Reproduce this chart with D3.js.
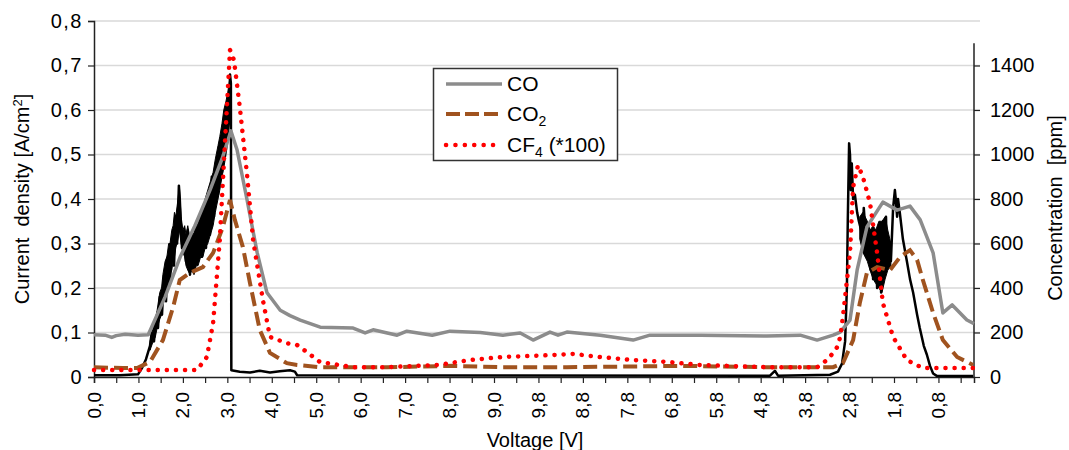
<!DOCTYPE html>
<html>
<head>
<meta charset="utf-8">
<script src="https://cdn.jsdelivr.net/npm/d3@7"></script>
<style>
  body { margin: 0; background: #fff; }
  svg { display: block; font-family: "Liberation Sans", Arial, sans-serif; }
</style>
</head>
<body>
<div id="vis"></div>
<script>
// ---- Data (x = sample index, 10 samples per label step) ----
const xLabels = ["0,0","1,0","2,0","3,0","4,0","5,0","6,0","7,0","8,0","9,0",
                 "9,8","8,8","7,8","6,8","5,8","4,8","3,8","2,8","1,8","0,8"];
const yLeftTicks = [0, 0.1, 0.2, 0.3, 0.4, 0.5, 0.6, 0.7, 0.8];
const yRightTicks = [0, 200, 400, 600, 800, 1000, 1200, 1400];

// current density [A/cm2] - left axis
const current = [
  [0,0.004],[5.8,0.004],[9.9,0.006],[10.8,0.02],[11.7,0.04],[12.6,0.07],[13.0,0.10],[13.5,0.08],
  [13.9,0.13],[14.4,0.11],[14.8,0.18],[15.3,0.14],[15.7,0.22],[16.2,0.17],[16.6,0.27],[17.1,0.21],
  [17.5,0.31],[18.0,0.25],[18.4,0.36],[18.7,0.30],[19.1,0.43],[19.3,0.40],[19.6,0.33],[19.8,0.29],
  [20.2,0.32],[20.7,0.26],[21.1,0.33],[21.6,0.23],[22.0,0.32],[22.5,0.24],[22.9,0.34],[23.4,0.26],
  [23.8,0.35],[24.3,0.27],[24.7,0.38],[25.2,0.29],[25.6,0.41],[26.1,0.32],[26.5,0.45],[27.0,0.36],
  [27.4,0.48],[27.9,0.41],[28.3,0.52],[28.8,0.46],[29.2,0.56],[29.7,0.51],[30.1,0.62],[30.4,0.57],
  [30.6,0.68],[30.8,0.66],[30.9,0.015],[32.8,0.012],[35.1,0.01],[37.3,0.014],[39.6,0.01],[41.8,0.013],
  [44.1,0.015],[45.2,0.012],[45.7,0.004],[152.1,0.003],[153.2,0.014],[153.9,0.003],[165.6,0.005],
  [167.4,0.012],[168.3,0.03],[169.0,0.08],[169.4,0.2],[169.6,0.35],[169.9,0.525],[170.1,0.50],
  [170.3,0.42],[170.5,0.48],[170.8,0.40],[171.2,0.41],[171.7,0.37],[172.1,0.35],[172.6,0.33],
  [172.8,0.36],[173.0,0.32],[173.2,0.38],[173.7,0.31],[174.1,0.34],[174.4,0.27],[174.6,0.32],
  [174.8,0.24],[175.0,0.31],[175.3,0.22],[175.5,0.33],[175.7,0.25],[175.9,0.30],[176.2,0.20],
  [176.4,0.33],[176.6,0.23],[176.8,0.30],[177.1,0.19],[177.3,0.34],[177.5,0.22],[177.7,0.35],
  [178.0,0.24],[178.2,0.36],[178.4,0.26],[178.6,0.29],[178.9,0.25],[179.1,0.30],[179.3,0.26],
  [179.8,0.38],[180.2,0.42],[180.4,0.40],[180.7,0.36],[180.9,0.40],[181.3,0.37],[182.0,0.31],
  [182.9,0.26],[183.6,0.22],[184.3,0.19],[185.2,0.14],[185.8,0.11],[186.7,0.07],[187.4,0.05],
  [188.1,0.025],[188.8,0.008],[189.7,0.002],[197.8,0.002]
];

// noise envelope of the current signal: [index, low, high]
const currentBand = [
  [12.6,0.06,0.08],[13.3,0.08,0.11],[13.8,0.09,0.13],[14.2,0.11,0.15],[14.8,0.13,0.19],
  [15.2,0.14,0.20],[15.5,0.17,0.23],[16.0,0.18,0.26],[16.4,0.20,0.27],[16.8,0.21,0.30],
  [17.1,0.23,0.30],[17.5,0.24,0.33],[17.8,0.26,0.34],[18.1,0.27,0.37],[18.4,0.29,0.36],
  [18.9,0.31,0.40],[19.2,0.33,0.43],[19.6,0.30,0.36],[20.0,0.28,0.33],[20.4,0.27,0.34],
  [20.7,0.25,0.32],[21.1,0.24,0.34],[21.6,0.23,0.31],[22.0,0.24,0.33],[22.5,0.23,0.32],
  [23.0,0.25,0.35],[23.4,0.25,0.34],[24.0,0.27,0.37],[24.5,0.27,0.38],[25.0,0.29,0.40],
  [25.6,0.30,0.42],[26.2,0.32,0.44],[26.8,0.34,0.46],[27.3,0.37,0.49],[27.9,0.40,0.52],
  [28.3,0.42,0.54],[28.8,0.45,0.57],[29.2,0.47,0.60],[29.7,0.50,0.62],[30.1,0.54,0.64],
  [30.4,0.56,0.66],[30.7,0.60,0.68]
];
const currentBand2 = [
  [172.3,0.31,0.36],[173.0,0.28,0.37],[174.0,0.26,0.35],[174.6,0.24,0.33],[175.3,0.22,0.34],
  [175.9,0.21,0.33],[176.6,0.20,0.35],[177.3,0.19,0.35],[178.0,0.22,0.36],[178.6,0.24,0.33],
  [179.3,0.25,0.30]
];

// concentrations [ppm] - right axis
const co = [
  [0,190],[2.5,188],[4,178],[5,186],[7,192],[9.9,188],[12.2,190],[16,360],[19.4,540],[22.7,680],
  [26.1,840],[28.8,980],[30.8,1106],[32.2,1020],[34.4,800],[36.7,560],[38.9,380],[41.9,300],
  [44.1,276],[46.4,256],[50.9,224],[58.3,220],[61,198],[62.8,212],[68.2,188],[70.4,206],[76.1,188],
  [80.1,206],[86.9,200],[92,188],[95.9,198],[98.8,166],[102.6,202],[104.4,188],[106.4,202],
  [113.9,188],[121.3,166],[125.1,188],[136.4,188],[151.4,184],[158.9,188],[162.7,166],[166.3,188],
  [167.9,202],[170.1,256],[171.7,480],[173.9,674],[177.5,786],[180.7,750],[183.6,768],[185.9,706],
  [188.8,558],[191,288],[193.1,324],[196.4,256],[198,240]
];

const co2 = [
  [0,44],[6.5,40],[9.7,40],[12.6,68],[15.5,166],[17.8,314],[19.3,436],[21.6,468],[24.5,494],
  [26.8,558],[29.0,674],[30.6,796],[31.7,706],[33.5,584],[35.1,422],[37.3,212],[39.6,108],
  [43.4,62],[45.7,54],[50.8,44],[65.9,44],[80.8,50],[92,44],[106.4,44],[132.5,50],[151.4,44],
  [166.3,44],[168.5,62],[170.8,166],[172.3,332],[173.9,468],[176.2,494],[179.1,480],[181.4,540],
  [183.6,570],[185.2,526],[186.5,436],[188.8,288],[191,166],[194.2,90],[197.8,54]
];

const cf4 = [
  [0,32],[23.2,32],[25.4,90],[26.8,242],[28.3,616],[29.5,1066],[30.6,1470],[31.5,1424],[32.8,1214],
  [34.4,916],[35.8,616],[38,346],[39.6,180],[43.4,152],[45.7,144],[47.9,112],[50.8,68],[58.3,44],
  [65.9,44],[77.2,54],[84.6,76],[92,90],[102.6,98],[107.8,104],[113.8,90],[121.3,76],[128.9,68],
  [136.4,54],[151.4,44],[162.7,44],[164.9,76],[166.3,108],[167.2,134],[167.9,180],[168.5,270],
  [170.1,558],[170.8,854],[171.9,952],[173,900],[174.6,782],[176.2,558],[177.5,332],[179.8,180],
  [182.9,76],[186.5,40],[197.8,40]
];

const outerWidth = 1069;
const outerHeight = 450;
const margin = { top: 21, right: 95, bottom: 73, left: 94 };
const width = outerWidth - margin.left - margin.right;
const height = outerHeight - margin.top - margin.bottom;

const root = d3.select("#vis")
  .append("svg")
  .attr("width", outerWidth)
  .attr("height", outerHeight);

const svg = root.append("g")
  .attr("transform", `translate(${margin.left},${margin.top})`);

// ---- Scales ----
const x = d3.scaleLinear().domain([0, 198]).range([0, width]);
const yL = d3.scaleLinear().domain([0, 0.8]).range([height, 0]);
const yR = d3.scaleLinear().domain([0, 1600]).range([height, 0]);

// ---- Gridlines ----
svg.append("g")
  .selectAll("line")
  .data(yLeftTicks.filter(d => d > 0))
  .join("line")
  .attr("x1", 0)
  .attr("x2", width + 6)
  .attr("y1", d => yL(d))
  .attr("y2", d => yL(d))
  .attr("stroke", "#d9d9d9")
  .attr("stroke-width", 1.5);

// ---- Axes ----
const fmtL = d => d === 0 ? "0" : d3.format(".1f")(d).replace(".", ",");

const axL = svg.append("g")
  .call(d3.axisLeft(yL).tickValues(yLeftTicks).tickFormat(fmtL).tickSize(6).tickPadding(5));
axL.select(".domain").attr("stroke", "#222").attr("stroke-width", 1.5);

const axR = svg.append("g")
  .attr("transform", `translate(${width},0)`)
  .call(d3.axisRight(yR).tickValues(yRightTicks).tickFormat(d3.format("d")).tickSize(6).tickPadding(10));
axR.select(".domain").remove();
axR.append("line")
  .attr("y1", yR(0))
  .attr("y2", yR(1500))
  .attr("stroke", "#222")
  .attr("stroke-width", 1.5);

const axB = svg.append("g")
  .attr("transform", `translate(0,${height})`)
  .call(d3.axisBottom(x).tickValues(d3.range(0, 196, 5)).tickFormat("").tickSize(6));
axB.select(".domain").attr("stroke", "#222").attr("stroke-width", 1.5);

[axL, axR, axB].forEach(a => {
  a.selectAll(".tick line").attr("stroke", "#222").attr("stroke-width", 1.2);
  a.selectAll(".tick text")
    .attr("fill", "#000")
    .style("font-size", "20px")
    .style("font-family", "'Liberation Sans', Arial, sans-serif");
});
axL.selectAll(".tick text").style("letter-spacing", "1.5px");

// rotated category labels
svg.append("g")
  .selectAll("text")
  .data(xLabels)
  .join("text")
  .attr("transform", (d, i) => `translate(${x(i * 10) + 6.5},${height + 15}) rotate(-90)`)
  .attr("text-anchor", "end")
  .style("font-size", "19px")
  .text(d => d);

// ---- Series ----
const lineL = d3.line().x(d => x(d[0])).y(d => yL(d[1]));
const lineR = d3.line().x(d => x(d[0])).y(d => yR(d[1]));
const bandL = d3.area().x(d => x(d[0])).y0(d => yL(d[1])).y1(d => yL(d[2]));

[currentBand, currentBand2].forEach(b => {
  svg.append("path")
    .datum(b)
    .attr("d", bandL)
    .attr("fill", "#000")
    .attr("stroke", "#000")
    .attr("stroke-width", 1);
});

svg.append("path")
  .datum(current)
  .attr("d", lineL)
  .attr("fill", "none")
  .attr("stroke", "#000")
  .attr("stroke-width", 2.5)
  .attr("stroke-linejoin", "round");

svg.append("path")
  .datum(co)
  .attr("d", lineR)
  .attr("fill", "none")
  .attr("stroke", "#8c8c8c")
  .attr("stroke-width", 3.5)
  .attr("stroke-linejoin", "round");

svg.append("path")
  .datum(co2)
  .attr("d", lineR)
  .attr("fill", "none")
  .attr("stroke", "#a0531f")
  .attr("stroke-width", 4)
  .attr("stroke-dasharray", "14,6");

svg.append("path")
  .datum(cf4)
  .attr("d", lineR)
  .attr("fill", "none")
  .attr("stroke", "#ff0000")
  .attr("stroke-width", 4.5)
  .attr("stroke-linecap", "round")
  .attr("stroke-dasharray", "0.1,9");

// ---- Axis titles ----
root.append("text")
  .attr("transform", "translate(29,199) rotate(-90)")
  .attr("text-anchor", "middle")
  .style("font-size", "20px")
  .style("white-space", "pre")
  .html('Current  density [A/cm<tspan dy="-7" font-size="13">2</tspan><tspan dy="7">]</tspan>');

root.append("text")
  .attr("transform", "translate(1062,208) rotate(-90)")
  .attr("text-anchor", "middle")
  .style("font-size", "20px")
  .style("white-space", "pre")
  .text("Concentration  [ppm]");

root.append("text")
  .attr("x", 535)
  .attr("y", 447)
  .attr("text-anchor", "middle")
  .style("font-size", "20px")
  .text("Voltage [V]");

// ---- Legend ----
const legend = root.append("g");
legend.append("rect")
  .attr("x", 433.5).attr("y", 68.5)
  .attr("width", 184).attr("height", 92)
  .attr("fill", "#fff")
  .attr("stroke", "#333")
  .attr("stroke-width", 1.5);

const legendItems = [
  { label: "CO", sub: "", rest: "", color: "#8c8c8c", dash: null, w: 3.5 },
  { label: "CO", sub: "2", rest: "", color: "#a0531f", dash: "14,5", w: 4 },
  { label: "CF", sub: "4", rest: " (*100)", color: "#ff0000", dash: "0.1,9.3", w: 4.5 }
];
const rowY = [84, 114, 145];

legendItems.forEach((it, i) => {
  legend.append("line")
    .attr("x1", 446).attr("x2", 502)
    .attr("y1", rowY[i]).attr("y2", rowY[i])
    .attr("stroke", it.color)
    .attr("stroke-width", it.w)
    .attr("stroke-dasharray", it.dash)
    .attr("stroke-linecap", it.dash && it.dash.startsWith("0.1") ? "round" : "butt");
  const t = legend.append("text")
    .attr("x", 507)
    .attr("y", rowY[i] + 7)
    .style("font-size", "21px")
    .style("white-space", "pre");
  t.append("tspan").text(it.label);
  if (it.sub) t.append("tspan").attr("dy", 5).style("font-size", "14px").text(it.sub);
  if (it.rest) t.append("tspan").attr("dy", -5).text(it.rest);
});
</script>
</body>
</html>
